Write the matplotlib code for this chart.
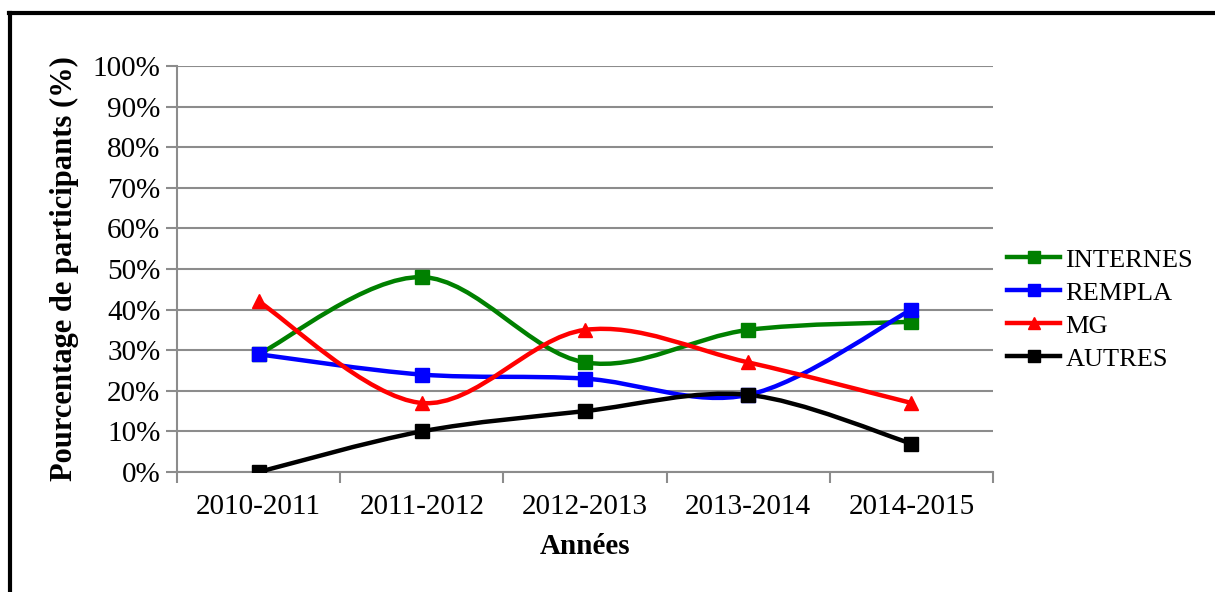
"""Participation par année - courbes lissées (style Excel)
"""
import numpy as np
import matplotlib
matplotlib.use('agg')
import matplotlib.pyplot as plt
from matplotlib.path import Path
from matplotlib.patches import PathPatch
from matplotlib.lines import Line2D

annees = ['2010-2011', '2011-2012', '2012-2013', '2013-2014', '2014-2015']
internes = [29, 48, 27, 35, 37]
rempla = [29, 24, 23, 19, 40]
mg = [42, 17, 35, 27, 17]
autres = [0, 10, 15, 19, 7]

series = [('INTERNES', internes, '#008000', 's'),
          ('REMPLA', rempla, '#0000ff', 's'),
          ('MG', mg, '#ff0000', '^'),
          ('AUTRES', autres, '#000000', 's')]

plt.rcParams['font.family'] = ['Liberation Serif', 'DejaVu Serif']
fs = 21


def smooth_path(x, y):
    # bezier segments like Excel's smoothed line (catmull-rom control points)
    pts = np.column_stack([x, y]).astype(float)
    n = len(pts)
    verts = [pts[0]]
    codes = [Path.MOVETO]
    for i in range(n - 1):
        p0 = pts[max(i - 1, 0)]
        p1 = pts[i]
        p2 = pts[i + 1]
        p3 = pts[min(i + 2, n - 1)]
        c1 = p1 + (p2 - p0) / 6.0
        c2 = p2 - (p3 - p1) / 6.0
        verts += [c1, c2, p2]
        codes += [Path.CURVE4] * 3
    return Path(verts, codes)


fig = plt.figure(figsize=[12.15, 5.92], dpi=100)
ax = fig.add_axes([177/1215, 1 - 472/592, (993-177)/1215, (472-66)/592])

xpos = np.arange(len(annees))
for name, vals, col, mk in series:
    ax.add_patch(PathPatch(smooth_path(xpos, vals), fill=False, edgecolor=col,
                           lw=3.2, capstyle='round', zorder=3))
    ax.plot(xpos, vals, linestyle='none', marker=mk, color=col, ms=10, zorder=4)

ax.set_xlim(-0.5, len(annees) - 0.5)
ax.set_ylim(0, 100)
ax.set_yticks(np.arange(0, 101, 10))
ax.set_yticklabels([str(v) + '%' for v in range(0, 101, 10)], fontsize=fs)
ax.set_xticks(np.arange(-0.5, len(annees), 1))
ax.set_xticklabels([])
ax.set_xticks(xpos, minor=True)
ax.set_xticklabels(annees, minor=True, fontsize=fs)
ax.tick_params(axis='x', which='minor', length=0, pad=16)
ax.tick_params(axis='x', which='major', length=8, color='#8c8c8c', width=1.5)
ax.tick_params(axis='y', length=8, color='#8c8c8c', width=1.5, pad=4)
ax.grid(axis='y', color='#8c8c8c', lw=1.5)
ax.set_axisbelow(True)
for s in ['top', 'right']:
    ax.spines[s].set_visible(False)
for s in ['left', 'bottom']:
    ax.spines[s].set_color('#8c8c8c')
    ax.spines[s].set_linewidth(1.5)

ax.set_ylabel('Pourcentage de participants (%)', fontsize=22, fontweight='bold', labelpad=10)
ax.set_xlabel('Années', fontsize=fs, fontweight='bold', labelpad=9)

handles = [Line2D([0], [0], color=col, lw=3.2, marker=mk, ms=8)
           for name, vals, col, mk in series]
fig.legend(handles, [s[0] for s in series], loc='upper left',
           bbox_to_anchor=(994/1215, 1 - 235/592), frameon=False,
           fontsize=19, handlelength=2.0, handletextpad=0.2, labelspacing=0.36,
           borderpad=0)

# cadre autour du graphique
fig.add_artist(Line2D([10.5/1215, 10.5/1215], [0, 1 - 12.5/592], color='black', lw=3))
fig.add_artist(Line2D([9/1215, 1214/1215], [1 - 12.5/592, 1 - 12.5/592], color='black', lw=3))

plt.savefig('out.png', dpi=100)
